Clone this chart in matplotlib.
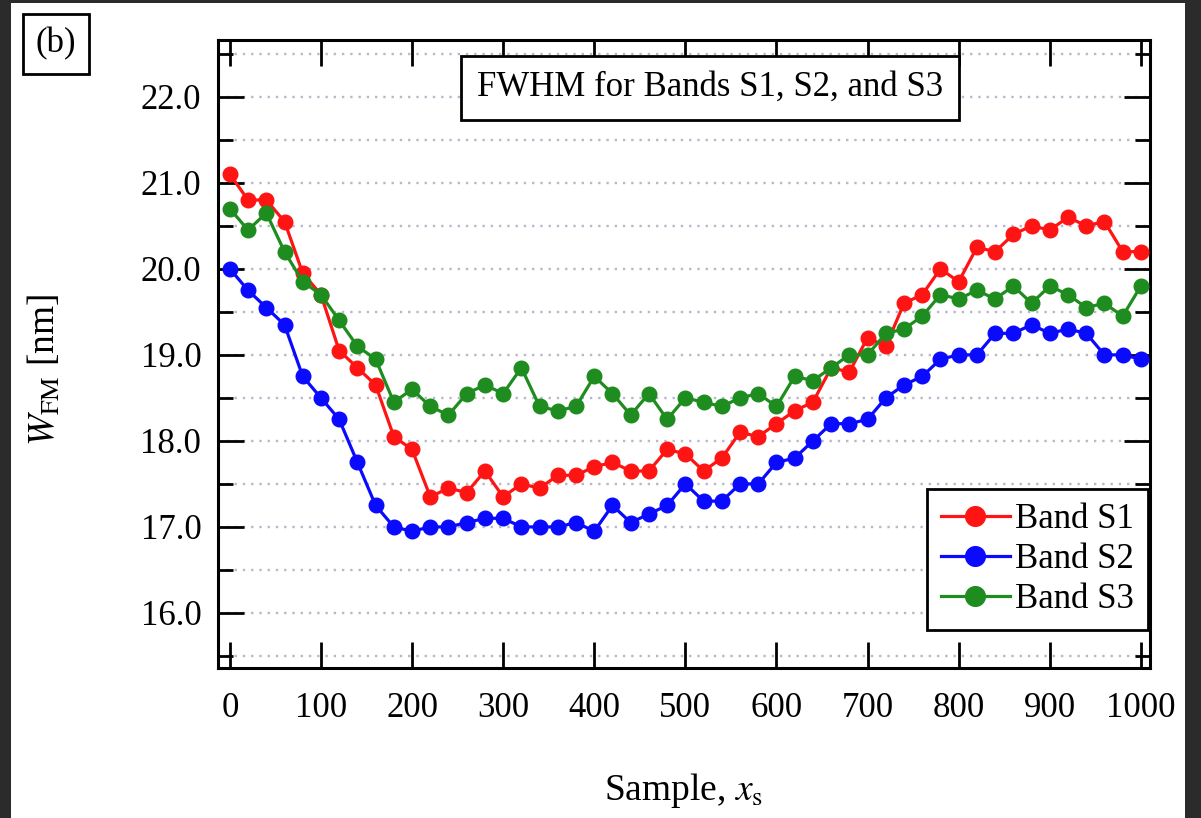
import matplotlib
matplotlib.use("Agg")
import matplotlib.pyplot as plt
from matplotlib.patches import Rectangle
from matplotlib.ticker import MultipleLocator

# sample positions and FWHM values
samples = list(range(0, 1001, 20))

band_s1 = [21.1, 20.8, 20.8, 20.55, 19.95, 19.7, 19.05, 18.85, 18.65, 18.05,
           17.9, 17.35, 17.45, 17.4, 17.65, 17.35, 17.5, 17.45, 17.6, 17.6,
           17.7, 17.75, 17.65, 17.65, 17.9, 17.85, 17.65, 17.8, 18.1, 18.05,
           18.2, 18.35, 18.45, 18.85, 18.8, 19.2, 19.1, 19.6, 19.7, 20.0,
           19.85, 20.25, 20.2, 20.4, 20.5, 20.45, 20.6, 20.5, 20.55, 20.2, 20.2]

band_s2 = [20.0, 19.75, 19.55, 19.35, 18.75, 18.5, 18.25, 17.75, 17.25, 17.0,
           16.95, 17.0, 17.0, 17.05, 17.1, 17.1, 17.0, 17.0, 17.0, 17.05,
           16.95, 17.25, 17.05, 17.15, 17.25, 17.5, 17.3, 17.3, 17.5, 17.5,
           17.75, 17.8, 18.0, 18.2, 18.2, 18.25, 18.5, 18.65, 18.75, 18.95,
           19.0, 19.0, 19.25, 19.25, 19.35, 19.25, 19.3, 19.25, 19.0, 19.0, 18.95]

band_s3 = [20.7, 20.45, 20.65, 20.2, 19.85, 19.7, 19.4, 19.1, 18.95, 18.45,
           18.6, 18.4, 18.3, 18.55, 18.65, 18.55, 18.85, 18.4, 18.35, 18.4,
           18.75, 18.55, 18.3, 18.55, 18.25, 18.5, 18.45, 18.4, 18.5, 18.55,
           18.4, 18.75, 18.7, 18.85, 19.0, 19.0, 19.25, 19.3, 19.45, 19.7,
           19.65, 19.75, 19.65, 19.8, 19.6, 19.8, 19.7, 19.55, 19.6, 19.45, 19.8]

series_names = ["Band S1", "Band S2", "Band S3"]
series_colors = ["#ff1414", "#0a0aff", "#1e8c1e"]

x_ticks = list(range(0, 1001, 100))
y_ticks = [16.0, 17.0, 18.0, 19.0, 20.0, 21.0, 22.0]

plt.rcParams["font.family"] = ["Liberation Serif", "DejaVu Serif"]
plt.rcParams["mathtext.fontset"] = "stix"

fig = plt.figure(figsize=(12.01, 8.18), dpi=100)
fig.patch.set_facecolor("#2b2b2b")
# white page area inside the dark frame
fig.add_artist(Rectangle((11 / 1201, 0), (1185 - 11) / 1201, 1 - 3 / 818,
                         transform=fig.transFigure, facecolor="white",
                         edgecolor="none", zorder=0))

ax = fig.add_axes([218 / 1201, 1 - 668 / 818, (1150 - 218) / 1201, (668 - 40) / 818])
ax.set_facecolor("white")

for vals, name, col in zip([band_s1, band_s2, band_s3], series_names, series_colors):
    ax.plot(samples, vals, color=col, lw=2.3, marker="o", ms=10.5,
            markeredgecolor=col, label=name, zorder=3)

ax.set_xlim(-13, 1010)
ax.set_ylim(15.36, 22.66)
ax.set_xticks(x_ticks)
ax.set_yticks(y_ticks)
ax.set_yticklabels(["%.1f" % v for v in y_ticks])
ax.yaxis.set_minor_locator(MultipleLocator(0.5))

ax.tick_params(axis="both", which="major", direction="in", length=19, width=2,
               labelsize=25, top=True, right=True)
ax.tick_params(axis="y", which="minor", direction="in", length=11, width=2,
               right=True)
ax.tick_params(axis="x", pad=17)
ax.tick_params(axis="y", pad=12)
for sp in ax.spines.values():
    sp.set_linewidth(2.2)

ax.grid(axis="y", which="both", linestyle=(0, (1, 2.5)), color="#b8b8cc",
        linewidth=1.7, zorder=1)

leg = ax.legend(loc="lower right", bbox_to_anchor=(0.998, 0.0605),
                borderaxespad=0, fontsize=25, frameon=True, fancybox=False,
                handlelength=2.0, handletextpad=0.15, borderpad=0.4,
                labelspacing=0.2, markerscale=1.35, framealpha=1)
leg.get_frame().set_edgecolor("black")
leg.get_frame().set_linewidth(2)

ax.text(0.528, 0.924, "FWHM for Bands S1, S2, and S3", transform=ax.transAxes,
        ha="center", va="center", fontsize=25,
        bbox=dict(boxstyle="square,pad=0.45", facecolor="white",
                  edgecolor="black", linewidth=2))

fig.text(56 / 1201, 1 - 44 / 818, "(b)", ha="center", va="center", fontsize=25,
         bbox=dict(boxstyle="square,pad=0.38", facecolor="white",
                   edgecolor="black", linewidth=2))

fig.text(45 / 1201, 1 - 370 / 818, r"$W_{\mathrm{FM}}$ [nm]", rotation=90,
         ha="center", va="center", fontsize=27)
fig.text(684 / 1201, 1 - 790 / 818, r"Sample, $x_{\mathrm{s}}$",
         ha="center", va="center", fontsize=27)

fig.savefig("out.png", dpi=100, facecolor=fig.get_facecolor())
